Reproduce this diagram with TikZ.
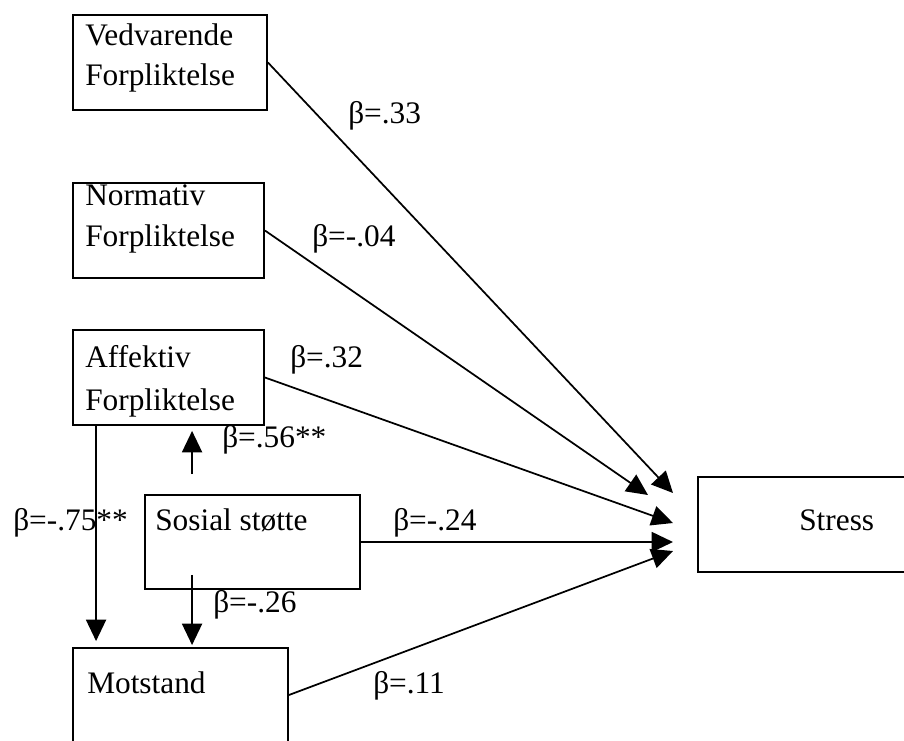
\documentclass[tikz,border=0pt]{standalone}
\usepackage{fontspec}
\setmainfont{Liberation Serif}
\usetikzlibrary{arrows.meta}
\begin{document}
\begin{tikzpicture}[x=0.75pt,y=-0.75pt,
  box/.style={draw,line width=1.4pt,inner sep=0pt},
  txt/.style={anchor=base west,inner sep=0pt,font=\fontsize{23.5}{28}\selectfont},
  arr/.style={line width=1.3pt,-{Triangle[length=16pt,width=15pt]}}]
\useasboundingbox (0,0) rectangle (904,740);
% boxes
\node[box,minimum width=145.5pt,minimum height=71.25pt] (ved) at (170,62.5) {};
\node[box,minimum width=143.25pt,minimum height=71.25pt] (nor) at (168.5,230.5) {};
\node[box,minimum width=143.25pt,minimum height=71.25pt] (aff) at (168.5,377.5) {};
\node[box,minimum width=161.25pt,minimum height=70.5pt] (sos) at (252.5,542) {};
\node[box,minimum width=161.25pt,minimum height=70.5pt] (mot) at (180.5,695) {};
\node[box,minimum width=159pt,minimum height=71.25pt] (str) at (804,524.5) {};
% box texts
\node[txt] (vedA) at (85,45) {Vedvarende};
\node[txt] (vedB) at (85,85) {Forpliktelse};
\node[txt] (norA) at (85,205) {Normativ};
\node[txt] (norB) at (85,246) {Forpliktelse};
\node[txt] (affA) at (85,367) {Affektiv};
\node[txt] (affB) at (85,410) {Forpliktelse};
\node[txt] (sosA) at (155,530) {Sosial støtte};
\node[txt] (motA) at (87,693) {Motstand};
\node[txt] (strA) at (799,530) {Stress};
% tips
\coordinate (t1) at (673,493);
\coordinate (t2) at (648,495);
\coordinate (t3) at (673,523);
\coordinate (t4) at (673,542);
\coordinate (t5) at (673,551);
% connectors
\draw[arr] (ved.east) -- (t1);
\draw[arr] (nor.east) -- (t2);
\draw[arr] (aff.east) -- (t3);
\draw[arr] (sos.east) -- (t4);
\draw[arr] (mot.east) -- (t5);
\draw[arr] ([xshift=18pt]aff.south west) -- ([xshift=18pt,yshift=4.5pt]mot.north west);
\draw[arr] ([xshift=36pt,yshift=11.25pt]sos.south west) -- ([xshift=90pt,yshift=1.5pt]mot.north west);
\draw[arr] ([xshift=36pt,yshift=15pt]sos.north west) -- ([xshift=90pt,yshift=-3.75pt]aff.south west);
% labels
\node[txt] (l1) at (348,123) {β=.33};
\node[txt] (l2) at (312,246) {β=-.04};
\node[txt] (l3) at (290,367) {β=.32};
\node[txt] (l4) at (222,447) {β=.56**};
\node[txt] (l5) at (13,530) {β=-.75**};
\node[txt] (l6) at (393,530) {β=-.24};
\node[txt] (l7) at (213,612) {β=-.26};
\node[txt] (l8) at (373,693) {β=.11};
\end{tikzpicture}
\end{document}
